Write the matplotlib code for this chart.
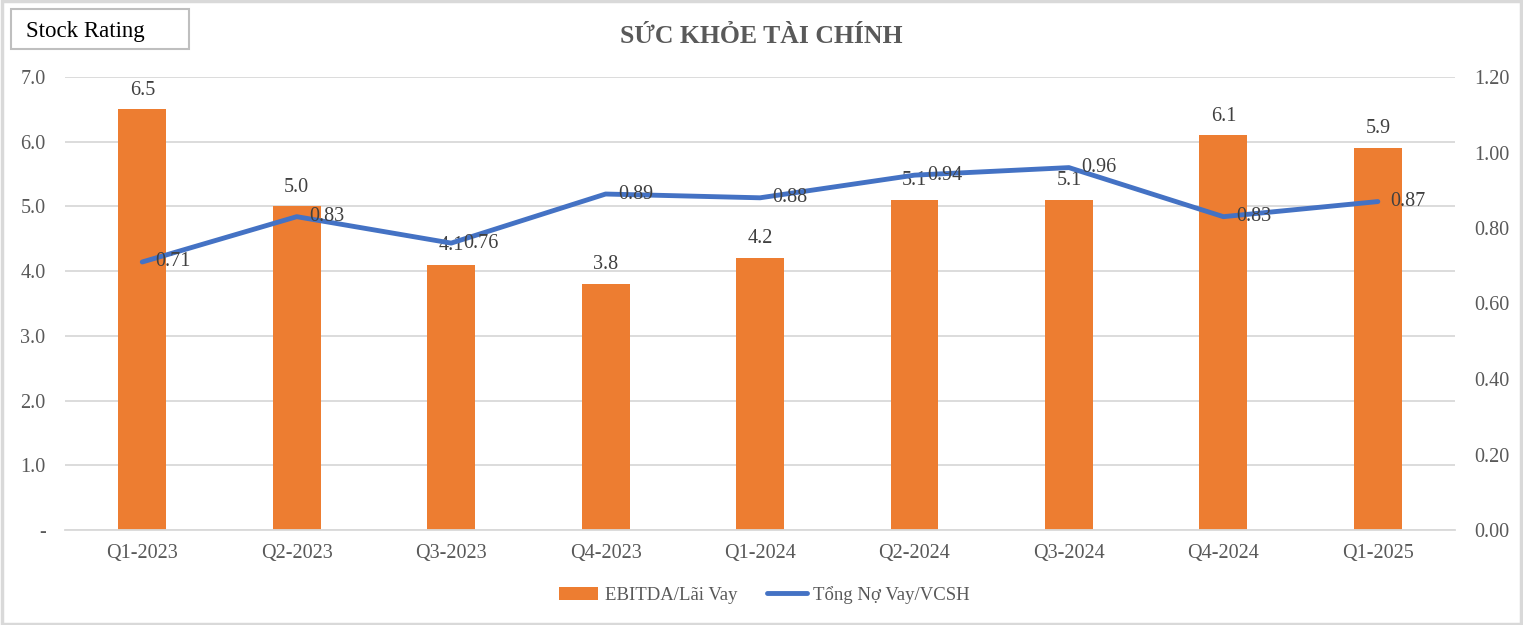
import numpy as np
import matplotlib
matplotlib.use("Agg")
import matplotlib.pyplot as plt
from matplotlib.patches import Rectangle

quarters = ["Q1-2023", "Q2-2023", "Q3-2023", "Q4-2023", "Q1-2024",
            "Q2-2024", "Q3-2024", "Q4-2024", "Q1-2025"]
ebitda_lai_vay = [6.5, 5.0, 4.1, 3.8, 4.2, 5.1, 5.1, 6.1, 5.9]
no_vay_vcsh = [0.71, 0.83, 0.76, 0.89, 0.88, 0.94, 0.96, 0.83, 0.87]

orange = "#ED7D31"
blue = "#4472C4"
grey_text = "#595959"
grid_col = "#D9D9D9"

plt.rcParams["font.family"] = ["Liberation Serif", "DejaVu Serif"]

fig = plt.figure(figsize=(15.23, 6.25), dpi=100)
ax = fig.add_axes([0.0427, 0.152, 0.9127, 0.7248])
ax2 = ax.twinx()

x = np.arange(len(quarters))
bars = ax.bar(x, ebitda_lai_vay, width=0.31, color=orange, zorder=2,
              label="EBITDA/Lãi Vay")
ax.set_xlim(-0.5, len(quarters) - 0.5)
ax.set_ylim(0, 7)
ax.set_yticks(np.arange(0, 8, 1))
ax.set_yticklabels(["-"] + [f"{v:.1f}" for v in np.arange(1, 8, 1)])
ax.yaxis.grid(True, color=grid_col, linewidth=1.3, zorder=0)
ax.set_axisbelow(True)
ax.set_xticks(x)
ax.set_xticklabels(quarters)

for xi, v in zip(x, ebitda_lai_vay):
    ax.annotate(f"{v:.1f}", (xi, v), xytext=(0, 7), textcoords="offset points",
                ha="center", va="bottom", fontsize=14.5, color="#404040")

line, = ax2.plot(x, no_vay_vcsh, color=blue, linewidth=3.5, zorder=3,
                 label="Tổng Nợ Vay/VCSH", solid_capstyle="round")
ax2.set_ylim(0, 1.2)
ax2.set_yticks(np.arange(0, 1.21, 0.2))
ax2.set_yticklabels([f"{v:.2f}" for v in np.arange(0, 1.21, 0.2)])
for xi, v in zip(x, no_vay_vcsh):
    ax2.annotate(f"{v:.2f}", (xi, v), xytext=(9, 0), textcoords="offset points",
                 ha="left", va="center", fontsize=14.5, color="#404040")

for a in (ax, ax2):
    for s in a.spines.values():
        s.set_visible(False)
    a.tick_params(length=0, labelsize=14.5, labelcolor=grey_text)
ax.tick_params(axis="y", pad=14)
ax.tick_params(axis="x", pad=10)
ax2.tick_params(axis="y", pad=14)
ax.spines["bottom"].set_visible(True)
ax.spines["bottom"].set_color(grid_col)
ax.spines["bottom"].set_linewidth(1.3)

fig.text(0.5, 0.942, "SỨC KHỎE TÀI CHÍNH", ha="center", va="center",
         fontsize=18.5, fontweight="bold", color=grey_text)

# Stock Rating box
fig.patches.append(Rectangle((11 / 1523, 1 - 49 / 625), 178 / 1523, 40 / 625,
                             transform=fig.transFigure, fill=False,
                             edgecolor="#BFBFBF", linewidth=1.5))
fig.text(26 / 1523, 1 - 31 / 625, "Stock Rating", ha="left", va="center",
         fontsize=16.5, color="black")

# outer border
fig.patches.append(Rectangle((0.001, 0.002), 0.998, 0.996, transform=fig.transFigure,
                             fill=False, edgecolor="#D9D9D9", linewidth=2.5))

fig.legend([bars, line], ["EBITDA/Lãi Vay", "Tổng Nợ Vay/VCSH"],
           loc="center", bbox_to_anchor=(0.502, 0.048), ncol=2, frameon=False,
           fontsize=13.5, labelcolor=grey_text, handlelength=2.1,
           handletextpad=0.35, columnspacing=1.6)

fig.savefig("out.png", dpi=100)
